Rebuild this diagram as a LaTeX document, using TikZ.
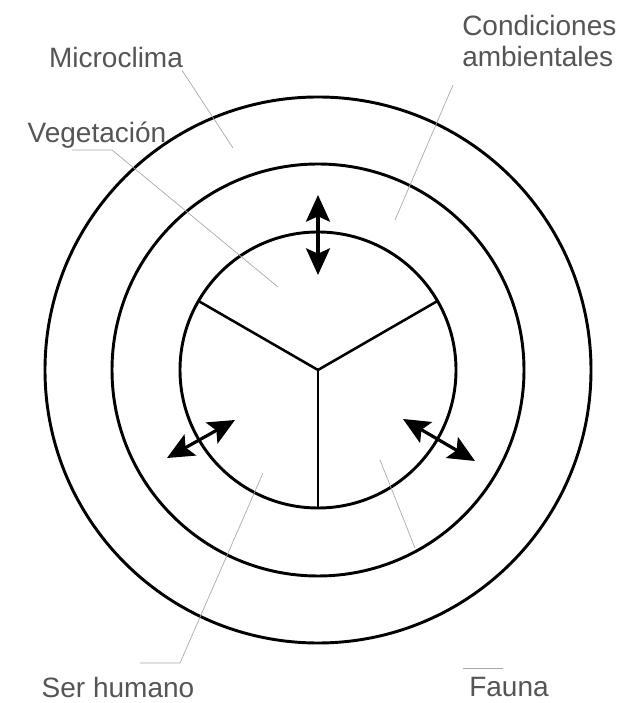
\documentclass[tikz,border=0pt]{standalone}
\usepackage{fontspec}
\setmainfont{Liberation Sans}
\usepackage{xcolor}
\usepackage{tikz}
\usetikzlibrary{arrows.meta, positioning, calc}
\definecolor{label-grey}{HTML}{555555}
\definecolor{leader-grey}{HTML}{A8A8A8}

\begin{document}
\begin{tikzpicture}[x=0.75pt, y=0.75pt,
    ring/.style={draw=black, line width=2.2pt},
    spoke/.style={draw=black, line width=1.9pt},
    exchange/.style={<->, >={Stealth[length=20pt,width=18pt,inset=4pt]}, line width=2.4pt},
    tag/.style={text=label-grey, font=\fontsize{21}{24}\selectfont, inner sep=0pt},
    leader/.style={draw=leader-grey, line width=0.5pt}]
    \useasboundingbox[fill=white] (0,0) rectangle (624,703);

    \coordinate (c) at (318,333);
    \draw[ring] (c) circle[radius=273];
    \draw[ring] (c) circle[radius=206];
    \draw[ring] (c) circle[radius=138];
    \draw[spoke] (c) -- ($(c)+(150:138)$);
    \draw[spoke] (c) -- ($(c)+(30:138)$);
    \draw[spoke] (c) -- ($(c)+(270:138)$);

    % exchange arrows
    \coordinate (top-a) at (318,508);  \coordinate (top-b) at (318,428);
    \coordinate (left-a) at (167,245); \coordinate (left-b) at (235,283);
    \coordinate (right-a) at (403,284); \coordinate (right-b) at (475,242);
    \draw[exchange] (top-a) -- (top-b);
    \draw[exchange] (left-a) -- (left-b);
    \draw[exchange] (right-a) -- (right-b);

    % labels
    \node (micro) [tag] at (116,645) {Microclima};
    \node (veget) [tag] at (97,568) {Vegetación};
    \node (cond) [tag, align=left, anchor=west] at (462,662) {Condiciones\\ambientales};
    \node (human) [tag] at (118,16) {Ser humano};
    \node (fauna) [tag] at (509,16) {Fauna};

    % leader lines
    \coordinate (micro-end) at (233,555);
    \coordinate (veget-end) at (278,416);
    \coordinate (cond-end) at (395,483);
    \coordinate (human-end) at (263,230);
    \coordinate (fauna-end) at (415,155);
    \draw[leader] (micro.south east) ++(-1,-2) -- (micro-end);
    \draw[leader] (72,553) -- (112,553) -- (veget-end);
    \draw[leader] (453,618) -- (cond-end);
    \draw[leader] (140,40) -- (180,40) -- (human-end);
    \draw[leader] (463,35) -- (503,35);
    \draw[leader] (380,243) -- (fauna-end);
\end{tikzpicture}
\end{document}
